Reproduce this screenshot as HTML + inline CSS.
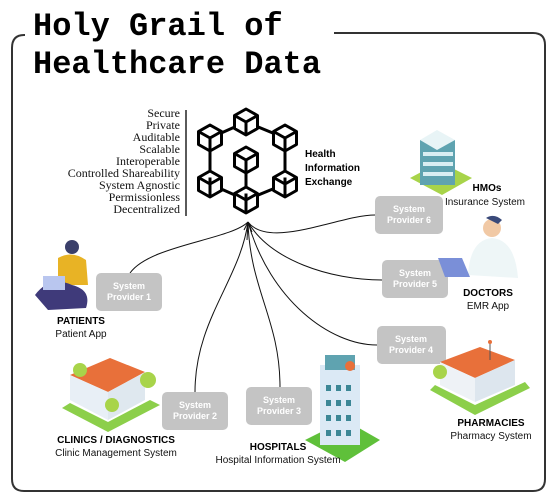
<!DOCTYPE html>
<html><head><style>
body{margin:0;background:#fff;}
svg{display:block}
.t{font-family:"Liberation Mono",monospace;font-weight:bold;font-size:32px;fill:#000}
.s{font-family:"Liberation Serif",serif;font-size:12px;fill:#111}
.b{font-family:"Liberation Sans",sans-serif;font-weight:bold;font-size:10px;fill:#000}
.n{font-family:"Liberation Sans",sans-serif;font-size:10px;fill:#111}
.p{font-family:"Liberation Sans",sans-serif;font-weight:bold;font-size:9px;fill:#fff}
</style></head><body>
<svg width="555" height="501" viewBox="0 0 555 501" xmlns="http://www.w3.org/2000/svg">
<defs>
<g id="cube"><path d="M0,-13 L11.5,-6.5 L11.5,6.5 L0,13 L-11.5,6.5 L-11.5,-6.5 Z M-11.5,-6.5 L0,0 L11.5,-6.5 M0,0 L0,13" fill="#fff" stroke="#000" stroke-width="3" stroke-linejoin="round"/></g>
</defs>
<path d="M25,35 L24,35 Q12,35 12,48 L12,479 Q12,491 24,491 L533,491 Q545,491 545,479 L545,45 Q545,33 533,33 L334,33" fill="none" stroke="#333" stroke-width="2"/>
<text class="t" x="33" y="35">Holy Grail of</text>
<text class="t" x="33" y="73">Healthcare Data</text>
<g text-anchor="end">
<text class="s" x="180" y="117">Secure</text>
<text class="s" x="180" y="129">Private</text>
<text class="s" x="180" y="141">Auditable</text>
<text class="s" x="180" y="153">Scalable</text>
<text class="s" x="180" y="165">Interoperable</text>
<text class="s" x="180" y="177">Controlled Shareability</text>
<text class="s" x="180" y="189">System Agnostic</text>
<text class="s" x="180" y="201">Permissionless</text>
<text class="s" x="180" y="213">Decentralized</text>
</g>
<line x1="186" y1="110" x2="186" y2="216" stroke="#222" stroke-width="1.5"/>
<g stroke="#000" stroke-width="3">
<line x1="246" y1="122" x2="210" y2="138"/><line x1="246" y1="122" x2="285" y2="138"/>
<line x1="210" y1="138" x2="210" y2="184"/><line x1="285" y1="138" x2="285" y2="184"/>
<line x1="210" y1="184" x2="246" y2="200"/><line x1="285" y1="184" x2="246" y2="200"/>
<line x1="246" y1="160" x2="246" y2="200"/>
</g>
<use href="#cube" x="246" y="122"/><use href="#cube" x="210" y="138"/><use href="#cube" x="285" y="138"/>
<use href="#cube" x="246" y="160"/><use href="#cube" x="210" y="184"/><use href="#cube" x="285" y="184"/>
<use href="#cube" x="246" y="200"/>
<text class="b" x="305" y="157" font-size="11">Health</text>
<text class="b" x="305" y="171" font-size="11">Information</text>
<text class="b" x="305" y="185" font-size="11">Exchange</text>
<g fill="none" stroke="#111" stroke-width="1">
<path d="M248,222 C230,240 150,245 130,273"/>
<path d="M248,222 C240,280 195,320 195,392"/>
<path d="M248,222 C250,290 280,320 280,387"/>
<path d="M248,222 C270,300 330,345 377,345"/>
<path d="M248,222 C270,260 330,280 382,280"/>
<path d="M248,222 C270,250 340,215 375,215"/>
<path d="M248,222 L244,230 M248,222 L252,232 M248,222 L247,240"/>
</g>
<g fill="#c4c4c4">
<rect x="96" y="273" width="66" height="38" rx="5"/>
<rect x="162" y="392" width="66" height="38" rx="5"/>
<rect x="246" y="387" width="66" height="38" rx="5"/>
<rect x="377" y="326" width="69" height="38" rx="5"/>
<rect x="382" y="260" width="66" height="38" rx="5"/>
<rect x="375" y="196" width="68" height="38" rx="5"/>
</g>
<g text-anchor="middle">
<text class="p" x="129" y="289">System</text><text class="p" x="129" y="300">Provider 1</text>
<text class="p" x="195" y="408">System</text><text class="p" x="195" y="419">Provider 2</text>
<text class="p" x="279" y="403">System</text><text class="p" x="279" y="414">Provider 3</text>
<text class="p" x="411" y="342">System</text><text class="p" x="411" y="353">Provider 4</text>
<text class="p" x="415" y="276">System</text><text class="p" x="415" y="287">Provider 5</text>
<text class="p" x="409" y="212">System</text><text class="p" x="409" y="223">Provider 6</text>
</g>
<!-- HMO building -->
<polygon points="410,178 440,162 472,178 442,195" fill="#a8d44a"/>
<rect x="420" y="140" width="35" height="45" fill="#5fa3b0"/>
<polygon points="420,140 437,130 455,140 437,150" fill="#e8f4f6"/>
<g fill="#d9eef2"><rect x="423" y="152" width="30" height="4"/><rect x="423" y="162" width="30" height="4"/><rect x="423" y="172" width="30" height="4"/></g>
<!-- Patient -->
<circle cx="72" cy="247" r="7" fill="#3a3f6a"/>
<path d="M58,258 Q72,250 86,260 L88,285 L58,285 Z" fill="#e8b325"/>
<path d="M35,295 Q50,275 72,285 Q92,290 86,308 L48,310 Z" fill="#3f3a7a"/>
<rect x="43" y="276" width="22" height="14" fill="#b9c6ef"/>
<!-- Doctor -->
<circle cx="492" cy="228" r="9" fill="#f1c9a5"/>
<path d="M486,218 Q494,213 502,220 L498,224 Z" fill="#3a4a7a"/>
<path d="M468,275 Q470,240 492,238 Q515,240 518,278 Z" fill="#eef6f7"/>
<polygon points="438,258 462,258 470,277 445,277" fill="#7a8fd8"/>
<!-- Clinic -->
<polygon points="70,375 110,358 145,372 108,392" fill="#e8703a"/>
<polygon points="70,375 108,392 108,420 70,400" fill="#e8eff6"/>
<polygon points="108,392 145,372 145,400 108,420" fill="#dfe8ef"/>
<polygon points="70,403 108,422 150,400 160,405 108,432 62,408" fill="#8ccf4a"/>
<circle cx="80" cy="370" r="7" fill="#a8d44a"/><circle cx="148" cy="380" r="8" fill="#a8d44a"/><circle cx="112" cy="405" r="7" fill="#a8d44a"/>
<!-- Hospital -->
<polygon points="305,440 345,420 380,440 345,462" fill="#5fc03a"/>
<rect x="320" y="365" width="40" height="80" fill="#dbe9f5"/>
<rect x="325" y="355" width="30" height="15" fill="#5fa3b0"/>
<circle cx="350" cy="366" r="5" fill="#e8703a"/>
<g fill="#3c8796"><rect x="326" y="385" width="5" height="6"/><rect x="336" y="385" width="5" height="6"/><rect x="346" y="385" width="5" height="6"/><rect x="326" y="400" width="5" height="6"/><rect x="336" y="400" width="5" height="6"/><rect x="346" y="400" width="5" height="6"/><rect x="326" y="415" width="5" height="6"/><rect x="336" y="415" width="5" height="6"/><rect x="346" y="415" width="5" height="6"/><rect x="326" y="430" width="5" height="6"/><rect x="336" y="430" width="5" height="6"/><rect x="346" y="430" width="5" height="6"/></g>
<!-- Pharmacy -->
<polygon points="440,362 480,347 515,360 475,378" fill="#e8703a"/>
<polygon points="440,362 475,378 475,402 440,385" fill="#eef2f6"/>
<polygon points="475,378 515,360 515,385 475,402" fill="#dde6ee"/>
<polygon points="435,385 475,405 525,382 530,388 475,415 430,390" fill="#8ccf4a"/>
<line x1="490" y1="342" x2="490" y2="360" stroke="#555"/>
<circle cx="490" cy="342" r="2" fill="#e8703a"/>
<circle cx="440" cy="372" r="7" fill="#a8d44a"/>
<g text-anchor="middle">
<text class="b" x="487" y="191">HMOs</text><text class="n" x="485" y="205">Insurance System</text>
<text class="b" x="488" y="296">DOCTORS</text><text class="n" x="488" y="309">EMR App</text>
<text class="b" x="81" y="324">PATIENTS</text><text class="n" x="81" y="337">Patient App</text>
<text class="b" x="116" y="443">CLINICS / DIAGNOSTICS</text><text class="n" x="116" y="456">Clinic Management System</text>
<text class="b" x="278" y="450">HOSPITALS</text><text class="n" x="278" y="463">Hospital Information System</text>
<text class="b" x="491" y="426">PHARMACIES</text><text class="n" x="491" y="439">Pharmacy System</text>
</g>
</svg>
</body></html>
